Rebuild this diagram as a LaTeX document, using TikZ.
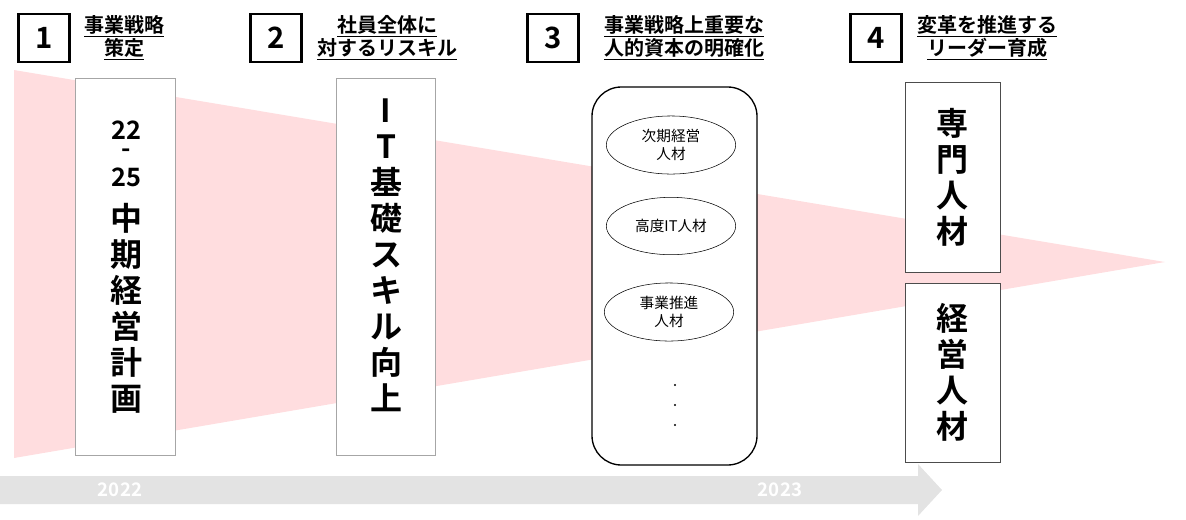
\documentclass[tikz,border=0pt]{standalone}
\usepackage{fontspec}
\setmainfont{Noto Sans CJK JP}[BoldFont={* Bold}]
\usetikzlibrary{shapes.geometric}
\begin{document}
\begin{tikzpicture}[x=0.75pt,y=-0.75pt,
 numbox/.style={draw=black,line width=2pt,fill=white,minimum width=38pt,minimum height=36pt,font=\bfseries\fontsize{22}{24}\selectfont},
 headtxt/.style={font=\bfseries\fontsize{15}{16}\selectfont,align=center},
 colbox/.style={draw=gray!70,fill=white,line width=0.6pt},
 bigtxt/.style={font=\bfseries\fontsize{24}{27}\selectfont,align=center},
 yr/.style={font=\bfseries\fontsize{19}{20}\selectfont,inner sep=0pt},
 ell/.style={ellipse,draw=black,fill=white,minimum width=97pt,minimum height=43pt,align=center,font=\fontsize{11}{14}\selectfont}]
\useasboundingbox (0,0) rectangle (1186,519);
\fill[fill={rgb,255:red,255;green,221;blue,223}] (14,70) -- (1165,262) -- (14,458) -- cycle;
\fill[gray!22] (0,476) -- (918,476) -- (918,464) -- (942,490) -- (918,516) -- (918,504) -- (0,504) -- cycle;
\node[text=white,font=\bfseries\fontsize{14}{15}\selectfont] (y1) at (120,490) {2022};
\node[text=white,font=\bfseries\fontsize{14}{15}\selectfont] (y2) at (780,490) {2023};
\node[numbox] (n1) at (44,38) {1};
\node[headtxt] (h1) at (124,38) {\underline{事業戦略}\\\underline{策定}};
\node[numbox] (n2) at (276,38) {2};
\node[headtxt] (h2) at (387,38) {\underline{社員全体に}\\\underline{対するリスキル}};
\node[numbox] (n3) at (553,38) {3};
\node[headtxt] (h3) at (684,38) {\underline{事業戦略上重要な}\\\underline{人的資本の明確化}};
\node[numbox] (n4) at (876,38) {4};
\node[headtxt] (h4) at (987,38) {\underline{変革を推進する}\\\underline{リーダー育成}};
\draw[colbox] (75,78) rectangle (175,455);
\node[yr] (t1a) at (126,130) {22};
\node[yr] (t1d) at (126,153) {-};
\node[yr] (t1c) at (126,177) {25};
\node[bigtxt] (t1b) at (126,308) {中\\期\\経\\営\\計\\画};
\draw[colbox] (336,78) rectangle (435,455);
\node[bigtxt] (t2) at (386,255) {I\\T\\基\\礎\\ス\\キ\\ル\\向\\上};
\draw[black,line width=1pt,fill=white,rounded corners=22pt] (592,87) rectangle (757,465);
\node[ell] (e1) at (671,145) {次期経営\\人材};
\node[ell] (e2) at (671,226) {高度IT人材};
\node[ell] (e3) at (669,312) {事業推進\\人材};
\foreach \yy in {385,405,425} \fill (675,\yy) circle (1.2);
\draw[colbox,draw=black!70] (905,82) rectangle (1000,272);
\node[bigtxt] (t4a) at (952,177) {専\\門\\人\\材};
\draw[colbox,draw=black!70] (905,283) rectangle (1000,462);
\node[bigtxt] (t4b) at (952,372) {経\\営\\人\\材};
\end{tikzpicture}
\end{document}
